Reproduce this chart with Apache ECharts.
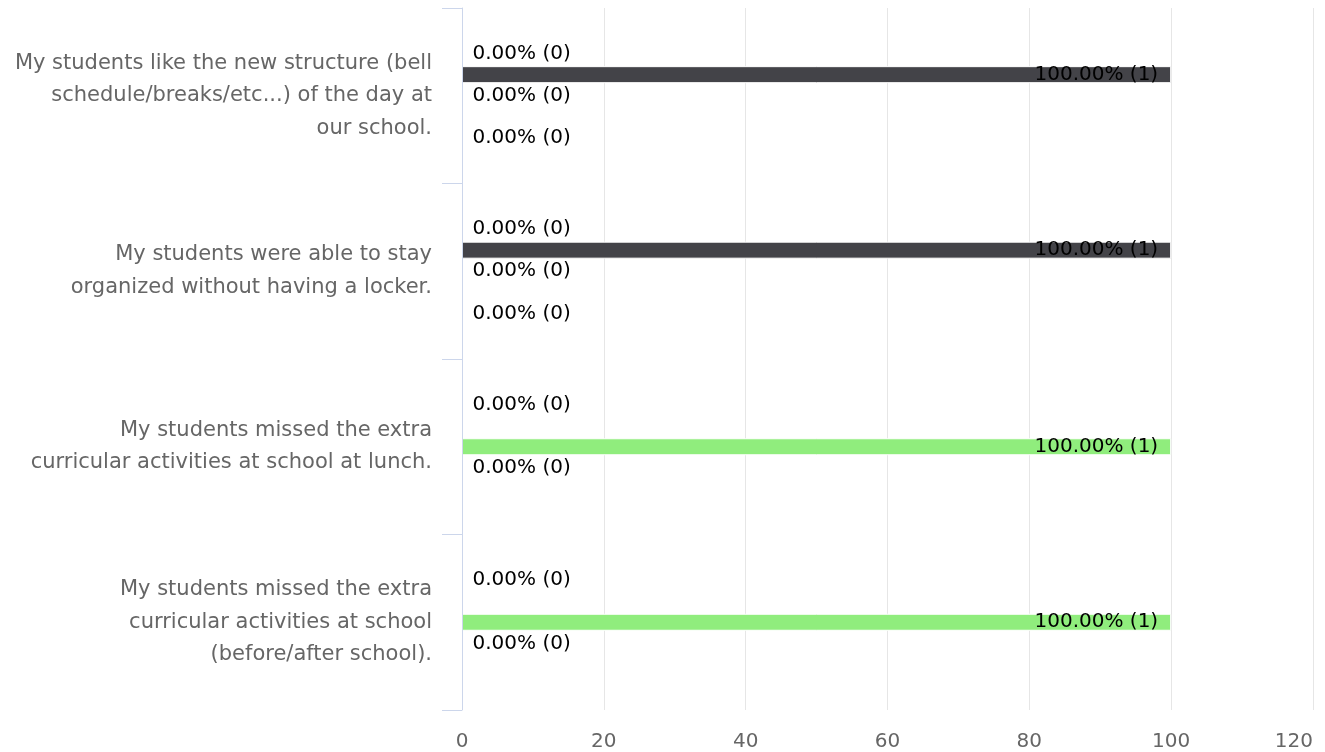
<!DOCTYPE html>
<html>
<head>
<meta charset="utf-8">
<script src="https://cdn.jsdelivr.net/npm/echarts@6/dist/echarts.min.js"></script>
<style>
html,body{margin:0;padding:0;background:#fff;}
#chart{width:1325px;height:752px;}
</style>
</head>
<body>
<div id="chart"></div>
<script>
// ---- data ----
const categories = [
  "My students like the new structure (bell\nschedule/breaks/etc...) of the day at\nour school.",
  "My students were able to stay\norganized without having a locker.",
  "My students missed the extra\ncurricular activities at school at lunch.",
  "My students missed the extra\ncurricular activities at school\n(before/after school)."
];
const seriesNames = ["Strongly Agree", "Agree", "Neutral", "Disagree", "Strongly Disagree"];
// percentage per series for each category
const pctStronglyAgree    = [0, 0, 0, 0];
const pctAgree            = [100, 100, 0, 0];
const pctNeutral          = [0, 0, 100, 100];
const pctDisagree         = [0, 0, 0, 0];
const pctStronglyDisagree = [0, 0, 0, 0];
// response counts
const cntStronglyAgree    = [0, 0, 0, 0];
const cntAgree            = [1, 1, 0, 0];
const cntNeutral          = [0, 0, 1, 1];
const cntDisagree         = [0, 0, 0, 0];
const cntStronglyDisagree = [0, 0, 0, 0];
const xTicks = [0, 20, 40, 60, 80, 100, 120];

const percents = [pctStronglyAgree, pctAgree, pctNeutral, pctDisagree, pctStronglyDisagree];
const counts = [cntStronglyAgree, cntAgree, cntNeutral, cntDisagree, cntStronglyDisagree];
const colors = ['#7cb5ec', '#434348', '#90ed7d', '#f7a35c', '#8085e9'];
const FONT = "'DejaVu Sans', Verdana, sans-serif";

// overlapping zero labels are hidden (greedy, top to bottom)
const showLabel = percents.map(() => categories.map(() => true));
categories.forEach((c, ci) => {
  let last = -Infinity;
  percents.forEach((arr, si) => {
    if (arr[ci] > 0) return;
    if (si - last >= 2) { last = si; } else { showLabel[si][ci] = false; }
  });
});

const series = seriesNames.map((name, si) => ({
  name: name,
  type: 'bar',
  barWidth: 17,
  barGap: '24%',
  itemStyle: { color: colors[si], borderColor: '#ffffff', borderWidth: 1 },
  label: {
    fontFamily: FONT, fontSize: 20, color: '#000000',
    textBorderWidth: 0,
    formatter: p => p.value.toFixed(2) + '% (' + counts[si][p.dataIndex] + ')'
  },
  data: percents[si].map((v, ci) => ({
    value: v,
    label: v > 0
      ? { show: true, position: 'insideRight', distance: 13 }
      : { show: showLabel[si][ci], position: 'right', distance: 10 }
  }))
}));

const chart = echarts.init(document.getElementById('chart'), null, { renderer: 'canvas' });
chart.setOption({
  animation: false,
  backgroundColor: '#ffffff',
  textStyle: { fontFamily: FONT },
  legend: { show: false },
  grid: { left: 462, right: 12, top: 8, bottom: 42, containLabel: false, outerBoundsMode: 'none' },
  xAxis: {
    type: 'value',
    min: xTicks[0], max: xTicks[xTicks.length - 1], interval: xTicks[1] - xTicks[0],
    axisLine: { show: false },
    axisTick: { show: false },
    axisLabel: { fontFamily: FONT, fontSize: 20, color: '#666666', margin: 22, alignMaxLabel: 'right' },
    splitLine: { show: true, lineStyle: { color: '#e6e6e6', width: 1 } }
  },
  yAxis: {
    type: 'category',
    data: categories,
    inverse: true,
    z: 3,
    axisLine: { show: true, lineStyle: { color: '#ccd6eb', width: 1 } },
    axisTick: { show: true, length: 20, lineStyle: { color: '#ccd6eb', width: 1 } },
    axisLabel: { fontFamily: FONT, fontSize: 21, color: '#666666', margin: 30, lineHeight: 32.5, align: 'right', padding: [4, 0, 0, 0] },
    splitLine: { show: false }
  },
  series: series
});
</script>
</body>
</html>
